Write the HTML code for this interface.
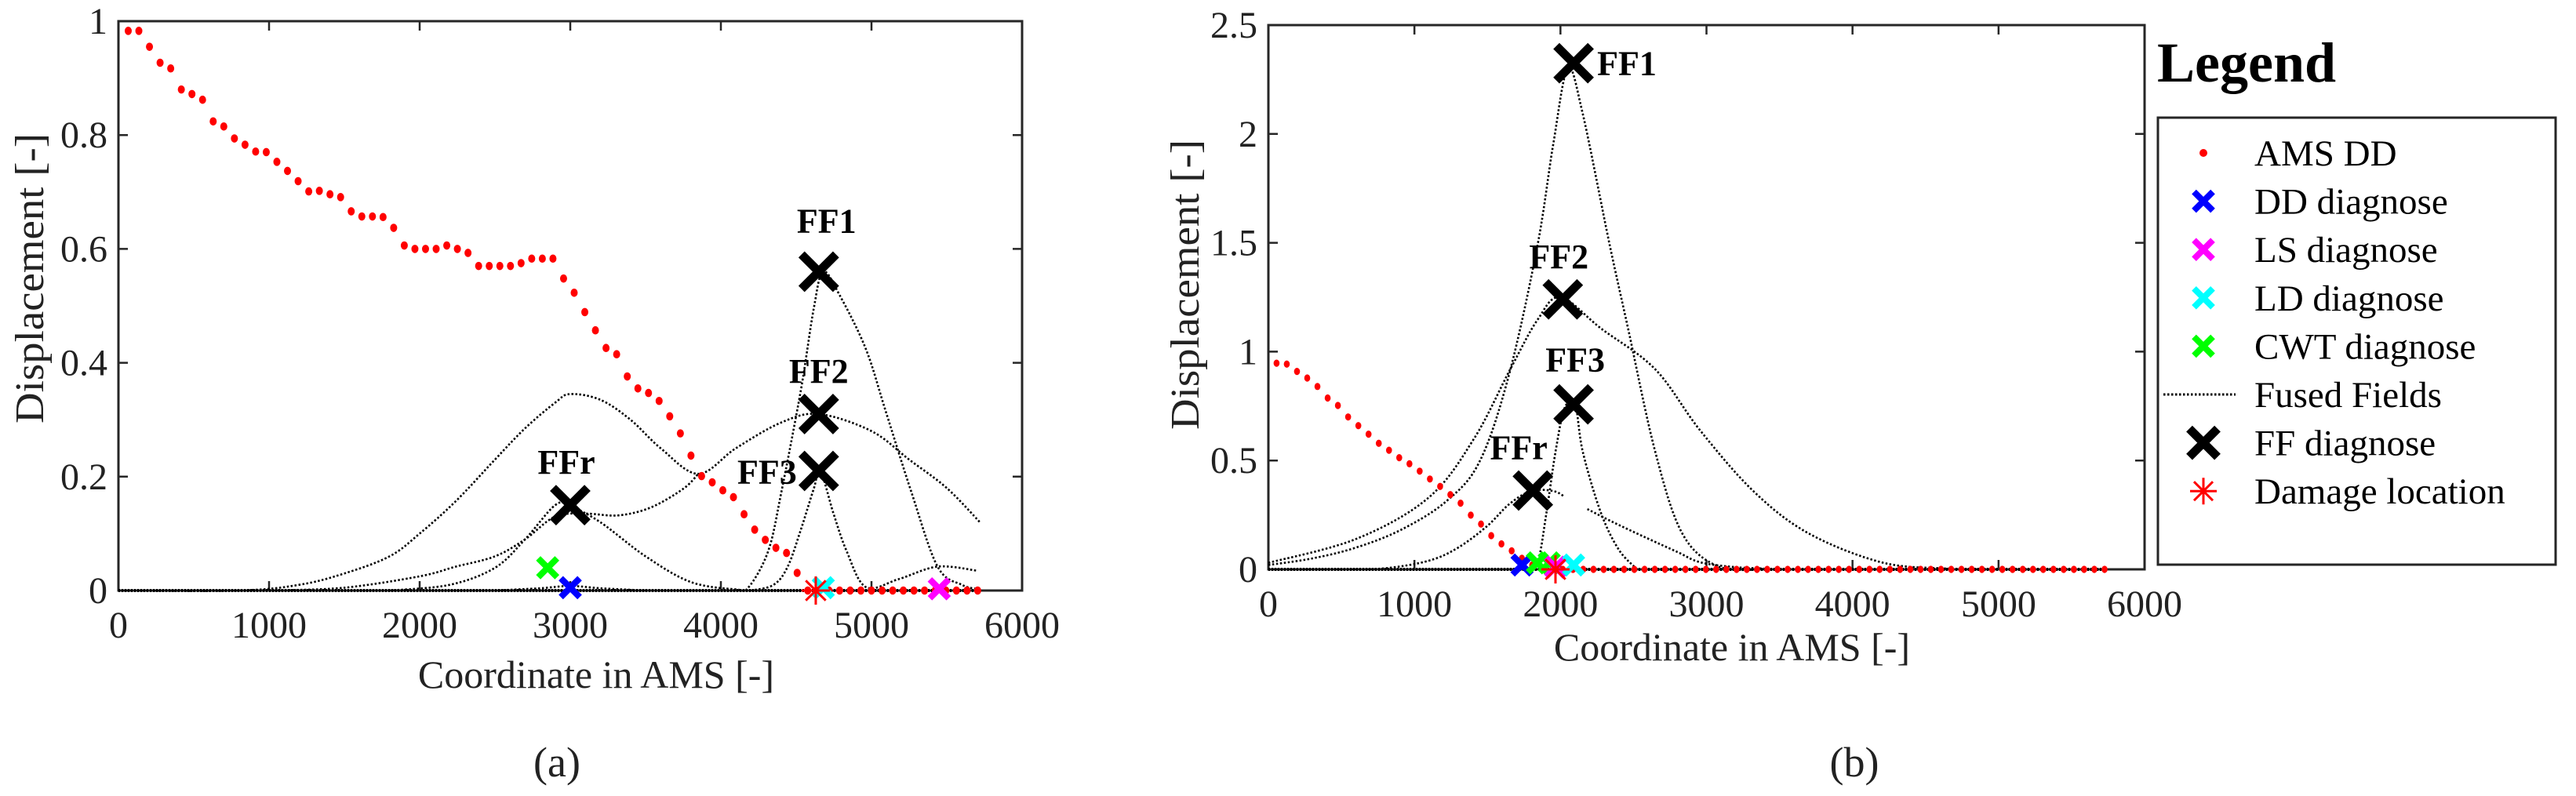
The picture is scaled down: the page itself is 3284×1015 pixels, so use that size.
<!DOCTYPE html>
<html><head><meta charset="utf-8"><style>
html,body{margin:0;padding:0;background:#fff;}
svg{display:block;}
text{font-family:"Liberation Serif",serif;fill:#222;}
</style></head><body>
<svg id="fig" width="3284" height="1015" viewBox="0 0 3284 1015" xmlns="http://www.w3.org/2000/svg">
<g id="pa"></g>
<g id="pb"></g>
<g id="legend"></g>
</svg>
<script>
// ---------- Panel (a) data ----------
const aDotStartX = 65, aDotStepX = 70.5;
const aDotY = [0.983,0.983,0.955,0.927,0.917,0.880,0.872,0.862,0.824,0.815,0.794,0.783,0.771,0.770,0.753,0.737,0.719,0.701,0.702,0.696,0.691,0.666,0.657,0.657,0.656,0.637,0.606,0.600,0.600,0.600,0.606,0.600,0.593,0.570,0.570,0.570,0.570,0.575,0.583,0.583,0.583,0.548,0.523,0.489,0.457,0.426,0.415,0.376,0.355,0.347,0.333,0.306,0.276,0.237,0.201,0.190,0.176,0.164,0.134,0.107,0.089,0.075,0.066,0.031,0,0,0,0,0,0,0,0,0,0,0,0,0,0,0,0,0];
const aCurveP_x = [0,800,1200,1500,1800,2000,2240,2500,2700,2900,3000,3200,3400,3600,3850,4100,4400,4650,5000,5250,5500,5720];
const aCurveP_y = [0,0,0.01,0.03,0.06,0.10,0.157,0.23,0.285,0.33,0.345,0.335,0.30,0.25,0.205,0.25,0.295,0.31,0.28,0.23,0.18,0.12];
const aCurveQ_x = [1000,1500,2000,2240,2500,2700,2900,3100,3320,3536,3752,3850];
const aCurveQ_y = [0,0.005,0.025,0.042,0.06,0.09,0.13,0.135,0.132,0.146,0.179,0.205];
const aCurveR_x = [1800,2200,2500,2700,2900,3000,3200,3500,3800,4100,4185,4315,4401,4531,4617,4680,4790,4963,5093,5266,5439,5600,5720];
const aCurveR_y = [0,0.01,0.04,0.09,0.15,0.148,0.12,0.06,0.015,0.002,0.006,0.07,0.172,0.352,0.496,0.56,0.518,0.424,0.316,0.172,0.042,0.01,0.002];
const aCurveF3_x = [4200,4350,4444,4531,4617,4660,4747,4834,4963,5180,5439,5698];
const aCurveF3_y = [0,0.01,0.042,0.107,0.179,0.21,0.136,0.07,0.006,0.02,0.042,0.035];
const aCurveS_x = [2500,2800,3000,3200,3500];
const aCurveS_y = [0,0.004,0.008,0.004,0];
const aFF_names = ["FF1","FF2","FF3","FFr"];
const aFF_x = [4650,4650,4650,3000];
const aFF_y = [0.56,0.31,0.21,0.15];
const aDiag_names = ["cwt","dd","ld","ls"];
const aDiag_x = [2850,3000,4680,5450];
const aDiag_y = [0.04,0.005,0.005,0.003];
const aDamage_x = 4630, aDamage_y = 0;
const aXTicks = [0,1000,2000,3000,4000,5000,6000];
const aYTicks = [0,0.2,0.4,0.6,0.8,1];
const aYTickLabels = ["0","0.2","0.4","0.6","0.8","1"];

// ---------- Panel (b) data ----------
const bDotStartX = 56, bDotStepX = 70;
const bDotY = [0.947,0.943,0.909,0.879,0.840,0.787,0.753,0.700,0.660,0.621,0.579,0.547,0.513,0.485,0.451,0.415,0.381,0.343,0.304,0.249,0.208,0.155,0.117,0.085,0.051,0.02,0.005,0,0,0,0,0,0,0,0,0,0,0,0,0,0,0,0,0,0,0,0,0,0,0,0,0,0,0,0,0,0,0,0,0,0,0,0,0,0,0,0,0,0,0,0,0,0,0,0,0,0,0,0,0,0,0];
const bC1_x = [0,300,600,912,1222,1450,1650,1842,1950,2050,2150,2339,2463,2649,2835,3083,3400];
const bC1_y = [0.02,0.05,0.1,0.183,0.315,0.5,0.9,1.485,1.95,2.3,2.1,1.485,1.107,0.54,0.164,0.013,0];
const bC2_x = [0,602,1098,1408,1656,1842,2000,2277,2649,2959,3331,3703,4200,4634,5000];
const bC2_y = [0.03,0.14,0.33,0.6,0.919,1.145,1.25,1.107,0.919,0.636,0.353,0.164,0.032,0.004,0];
const bC3_x = [0,500,800,1100,1300,1500,1650,1800,1950,2028];
const bC3_y = [0,0,0.005,0.04,0.1,0.2,0.3,0.36,0.36,0.334];
const bC4_x = [1750,1842,1904,1966,2028,2100,2153,2277,2400,2525];
const bC4_y = [0,0.03,0.26,0.54,0.74,0.76,0.54,0.26,0.09,0];
const bC5_x = [2184,2350,2587,2800,2959,3200,3393];
const bC5_y = [0.277,0.22,0.145,0.08,0.032,0.01,0.004];
const bFF_names = ["FF1","FF2","FF3","FFr"];
const bFF_x = [2090,2016,2090,1811];
const bFF_y = [2.325,1.24,0.758,0.362];
const bDiag_names = ["dd","cwt","cwt2","ls","ld"];
const bDiag_x = [1737,1842,1923,1966,2090];
const bDiag_y = [0.02,0.03,0.03,0.01,0.02];
const bDamage_x = 1966, bDamage_y = 0;
const bXTicks = [0,1000,2000,3000,4000,5000,6000];
const bYTicks = [0,0.5,1,1.5,2,2.5];
const bYTickLabels = ["0","0.5","1","1.5","2","2.5"];

const legendLabels = ["AMS DD","DD diagnose","LS diagnose","LD diagnose","CWT diagnose","Fused Fields","FF diagnose","Damage location"];

const NS = "http://www.w3.org/2000/svg";
const COLORS = {dd:"#0000ff",ls:"#ff00ff",ld:"#00ffff",cwt:"#00ff00",cwt2:"#00ff00"};
function mk(tag, attrs, parent){const e=document.createElementNS(NS,tag);for(const k in attrs)e.setAttribute(k,attrs[k]);parent.appendChild(e);return e;}
function smoothPath(pts){
  let d="M"+pts[0][0].toFixed(1)+","+pts[0][1].toFixed(1);
  for(let i=0;i<pts.length-1;i++){
    const p0=pts[Math.max(0,i-1)],p1=pts[i],p2=pts[i+1],p3=pts[Math.min(pts.length-1,i+2)];
    const c1x=p1[0]+(p2[0]-p0[0])/6,c1y=p1[1]+(p2[1]-p0[1])/6;
    const c2x=p2[0]-(p3[0]-p1[0])/6,c2y=p2[1]-(p3[1]-p1[1])/6;
    d+=" C"+c1x.toFixed(1)+","+c1y.toFixed(1)+" "+c2x.toFixed(1)+","+c2y.toFixed(1)+" "+p2[0].toFixed(1)+","+p2[1].toFixed(1);
  }
  return d;
}
function drawX(g,cx,cy,s,w,color){
  const e=mk("path",{d:`M${cx-s},${cy-s}L${cx+s},${cy+s}M${cx-s},${cy+s}L${cx+s},${cy-s}`,stroke:color,"stroke-width":w,fill:"none"},g);
  return e;
}
function drawStar(g,cx,cy,s,color){
  let d="";
  for(let k=0;k<4;k++){const a=k*Math.PI/4;const dx=s*Math.cos(a),dy=s*Math.sin(a);d+=`M${cx-dx},${cy-dy}L${cx+dx},${cy+dy}`;}
  return mk("path",{d:d,stroke:color,"stroke-width":3,fill:"none"},g);
}

function panel(g,cfg){
  const sx=v=>cfg.x0+(v-0)/6000*(cfg.x1-cfg.x0);
  const sy=v=>cfg.y0-(v/cfg.ymax)*(cfg.y0-cfg.y1);
  // frame
  const fr=mk("rect",{x:cfg.x0,y:cfg.y1,width:cfg.x1-cfg.x0,height:cfg.y0-cfg.y1,fill:"none",stroke:"#262626","stroke-width":3},g);
  
  
  cfg.xTicks.forEach(t=>{
    const X=sx(t);
    const tk=mk("path",{d:`M${X},${cfg.y0}v-12M${X},${cfg.y1}v12`,stroke:"#262626","stroke-width":2.5},g);
    
    
    const tl=mk("text",{x:X,y:cfg.y0+60,"font-size":48,"text-anchor":"middle"},g);
    tl.textContent=String(t);
    
    
  });
  cfg.yTicks.forEach((t,i)=>{
    const Y=sy(t);
    const tk=mk("path",{d:`M${cfg.x0},${Y}h12M${cfg.x1},${Y}h-12`,stroke:"#262626","stroke-width":2.5},g);
    
    
    const tl=mk("text",{x:cfg.x0-14,y:Y+16,"font-size":48,"text-anchor":"end"},g);
    tl.textContent=cfg.yLabels[i];
    
    
  });
  // baseline dotted
  const bl=mk("path",{d:`M${sx(0)},${sy(0)}H${sx(5720)}`,stroke:"#000","stroke-width":4,"stroke-dasharray":"2,2",fill:"none"},g);
  
  
  // curves
  cfg.curves.forEach(c=>{
    const pts=c[0].map((x,i)=>[sx(x),sy(c[1][i])]);
    const p=mk("path",{d:smoothPath(pts),stroke:"#000","stroke-width":2.6,"stroke-dasharray":"2.5,2.5",fill:"none"},g);
    
    
  });
  // dots
  cfg.dotY.forEach((v,i)=>{
    const d=mk("ellipse",{cx:sx(cfg.dotStart+i*cfg.dotStep),cy:sy(v),rx:cfg.dotR,ry:cfg.dotR+0.8,fill:"#ff0000"},g);
    
    
  });
  // diagnose markers
  cfg.diagNames.forEach((n,i)=>{
    const m=drawX(g,sx(cfg.diagX[i]),sy(cfg.diagY[i]),12,8,COLORS[n]);
    
    
  });
  const st=drawStar(g,sx(cfg.dmgX),sy(cfg.dmgY),18,"#ff0000");
  
  
  // FF markers + labels
  cfg.ffNames.forEach((n,i)=>{
    const X=sx(cfg.ffX[i]),Y=sy(cfg.ffY[i]);
    const m=drawX(g,X,Y,22,11,"#000");
    
    
    const o=cfg.labelOff[i];
    const t=mk("text",{x:X+o[0],y:Y+o[1],"font-size":44,"font-weight":"bold","text-anchor":o[2]},g);
    t.setAttribute("style","fill:#000");
    t.textContent=n;
    
    
  });
  // axis titles
  const xl=mk("text",{x:cfg.xlabX,y:cfg.xlabY,"font-size":50,"text-anchor":"middle"},g);
  xl.textContent="Coordinate in AMS [-]";
  
  
  const yl=mk("text",{x:0,y:0,"font-size":52,"text-anchor":"middle",textLength:370,lengthAdjust:"spacingAndGlyphs",transform:`translate(${cfg.ylabX},${cfg.ylabY}) rotate(-90)`},g);
  yl.textContent="Displacement [-]";
  
  
  const cap=mk("text",{x:cfg.capX,y:990,"font-size":54,"text-anchor":"middle"},g);
  cap.textContent=cfg.cap;
  
  
}

panel(document.getElementById("pa"),{
  x0:151,x1:1303,y0:753,y1:27,ymax:1,xTicks:aXTicks,yTicks:aYTicks,yLabels:aYTickLabels,
  curves:[[aCurveP_x,aCurveP_y],[aCurveQ_x,aCurveQ_y],[aCurveR_x,aCurveR_y],[aCurveF3_x,aCurveF3_y],[aCurveS_x,aCurveS_y]],
  dotY:aDotY,dotStart:aDotStartX,dotStep:aDotStepX,dotR:4.5,
  diagNames:aDiag_names,diagX:aDiag_x,diagY:aDiag_y,dmgX:aDamage_x,dmgY:aDamage_y,
  ffNames:aFF_names,ffX:aFF_x,ffY:aFF_y,
  labelOff:[[10,-50,"middle"],[0,-40,"middle"],[-28,16,"end"],[-5,-40,"middle"]],
  xlabX:760,xlabY:877,ylabX:55,ylabY:355,capX:710,cap:"(a)"
});
panel(document.getElementById("pb"),{
  x0:1617,x1:2734,y0:726,y1:32,ymax:2.5,xTicks:bXTicks,yTicks:bYTicks,yLabels:bYTickLabels,
  curves:[[bC1_x,bC1_y],[bC2_x,bC2_y],[bC3_x,bC3_y],[bC4_x,bC4_y],[bC5_x,bC5_y]],
  dotY:bDotY,dotStart:bDotStartX,dotStep:bDotStepX,dotR:3.8,
  diagNames:bDiag_names,diagX:bDiag_x,diagY:bDiag_y,dmgX:bDamage_x,dmgY:bDamage_y,
  ffNames:bFF_names,ffX:bFF_x,ffY:bFF_y,
  labelOff:[[30,15,"start"],[-5,-40,"middle"],[2,-42,"middle"],[-18,-40,"middle"]],
  xlabX:2208,xlabY:842,ylabX:1528,ylabY:363,capX:2364,cap:"(b)"
});

// ---------- Legend ----------
(function(){
  const g=document.getElementById("legend");
  const title=mk("text",{x:2750,y:104,"font-size":72,"font-weight":"bold"},g);
  title.setAttribute("style","fill:#000");
  title.textContent="Legend";
  
  
  const box=mk("rect",{x:2751,y:150,width:507,height:570,fill:"#fff",stroke:"#262626","stroke-width":3},g);
  
  
  const mx=2809;
  legendLabels.forEach((lab,i)=>{
    const base=211+i*61.6, cy=base-16;
    let m;
    if(i===0){m=mk("circle",{cx:mx,cy:cy,r:5,fill:"#ff0000"},g);}
    else if(i>=1&&i<=4){m=drawX(g,mx,cy,12,8,["#0000ff","#ff00ff","#00ffff","#00ff00"][i-1]);}
    else if(i===5){m=mk("path",{d:`M2758,${cy}H2850`,stroke:"#000","stroke-width":3,"stroke-dasharray":"2.5,2.5"},g);}
    else if(i===6){m=drawX(g,mx,cy,18,11,"#000");}
    else {m=drawStar(g,mx,cy,17,"#ff0000");}
    
    
    const t=mk("text",{x:2874,y:base,"font-size":47},g);
    t.setAttribute("style","fill:#000");
    t.textContent=lab;
    
    
  });
})();
</script>
</body></html>
